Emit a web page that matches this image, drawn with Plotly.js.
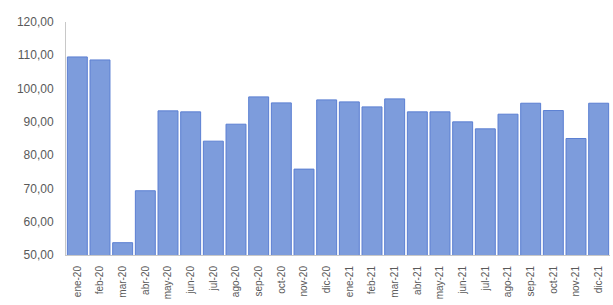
<!DOCTYPE html>
<html>
<head>
<meta charset="utf-8">
<script src="https://cdn.plot.ly/plotly-3.0.1.min.js"></script>
<style>html,body{margin:0;padding:0;background:#fff;}#chart{width:613px;height:305px;}</style>
</head>
<body>
<div id="chart"></div>
<script>
const categories = ["ene-20","feb-20","mar-20","abr-20","may-20","jun-20","jul-20","ago-20","sep-20","oct-20","nov-20","dic-20",
  "ene-21","feb-21","mar-21","abr-21","may-21","jun-21","jul-21","ago-21","sep-21","oct-21","nov-21","dic-21"];
const values = [109.5,108.6,53.7,69.3,93.3,93.0,84.2,89.3,97.5,95.7,75.8,96.6,
  96.0,94.5,96.9,93.0,93.0,90.0,87.9,92.3,95.6,93.4,85.0,95.6];
const yTicks = [50,60,70,80,90,100,110,120];

Plotly.newPlot('chart', [{
  type: 'bar',
  x: categories,
  y: values,
  marker: {color: '#7d9cdc', line: {color: '#5b7fd2', width: 1}},
  hoverinfo: 'x+y'
}], {
  width: 613, height: 305,
  margin: {l: 66, r: 3, t: 22, b: 50, pad: 0},
  paper_bgcolor: '#fff', plot_bgcolor: '#fff',
  separators: ',.',
  bargap: 0.12,
  showlegend: false,
  font: {family: 'Liberation Sans, Arial, sans-serif', color: '#595959', size: 11},
  xaxis: {
    type: 'category', tickangle: -90, showgrid: false,
    showline: true, linecolor: '#c8c8c8', linewidth: 1,
    ticks: '', ticklabelstandoff: 6, tickfont: {size: 10, color: '#595959'}
  },
  yaxis: {
    range: [50, 120], tickvals: yTicks, tickformat: '.2f', showgrid: false,
    showline: true, linecolor: '#c8c8c8', linewidth: 1, zeroline: false,
    ticks: '', ticklabelstandoff: 9, tickfont: {size: 12, color: '#595959'}
  }
}, {displayModeBar: false});
</script>
</body>
</html>
